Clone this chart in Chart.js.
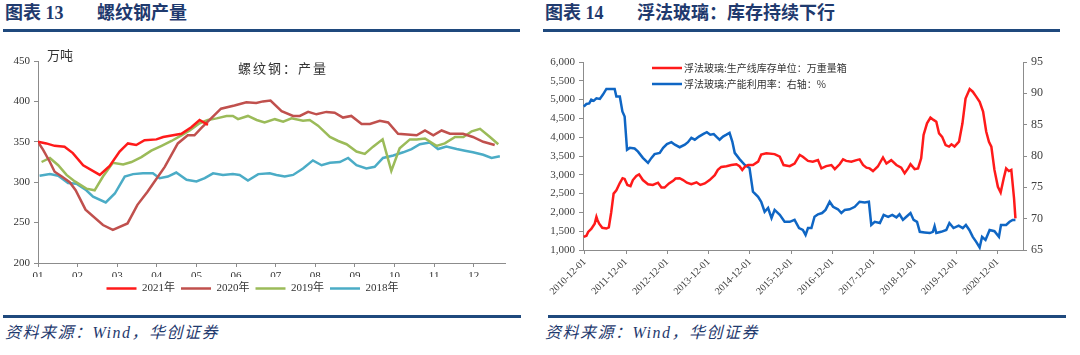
<!DOCTYPE html>
<html><head><meta charset="utf-8">
<script src="https://cdn.jsdelivr.net/npm/chart.js@4/dist/chart.umd.min.js"></script>
<style>
body{margin:0;width:1080px;height:355px;background:#fff;position:relative;overflow:hidden}
.t{position:absolute;color:#1f3a6e;font-weight:bold;font-size:18px;font-family:"Liberation Serif","Noto Sans CJK SC",serif;white-space:nowrap;line-height:20px}
.rule{position:absolute;height:3px;background:#1f497d}
.src{position:absolute;font-style:italic;color:#1f3a6e;font-size:16px;letter-spacing:1.5px;font-family:"Liberation Serif","Noto Sans CJK SC",serif;white-space:nowrap;line-height:18px}
.ann{position:absolute;color:#333;font-size:13px;font-family:"Noto Sans CJK SC",serif;white-space:nowrap;line-height:16px}
canvas{position:absolute}
</style></head>
<body>
<div class="t" style="left:5px;top:3px">图表 13</div>
<div class="t" style="left:97px;top:3px">螺纹钢产量</div>
<div class="rule" style="left:3px;top:29px;width:517px"></div>
<div class="t" style="left:545px;top:3px">图表 14</div>
<div class="t" style="left:637px;top:3px">浮法玻璃：库存持续下行</div>
<div class="rule" style="left:543px;top:29px;width:517px"></div>

<canvas id="c1" width="520" height="265" style="left:0;top:40px"></canvas>
<canvas id="c2" width="530" height="275" style="left:540px;top:40px"></canvas>

<div class="ann" style="left:47px;top:47px">万吨</div>
<div class="ann" style="left:238px;top:60px;letter-spacing:2px">螺纹钢：产量</div>

<div class="rule" style="left:3px;top:315px;width:518px"></div>
<div class="rule" style="left:548px;top:315px;width:518px"></div>
<div class="src" style="left:5px;top:324px">资料来源：Wind，华创证券</div>
<div class="src" style="left:545px;top:324px">资料来源：Wind，华创证券</div>

<script>
// ---------- Chart 13: rebar output (万吨), x = month position ----------
const MONTH_TICKS = [1,2,3,4,5,6,7,8,9,10,11,12];
const MONTH_LABELS = ['01','02','03','04','05','06','07','08','09','10','11','12'];
const REBAR_NAMES = ['2021年','2020年','2019年','2018年'];
const REBAR_COLORS = ['#ff1a1a','#c0504d','#9bbb59','#4bacc6'];
const rebar2021 = [[1.00,350],[1.21,348],[1.42,345],[1.67,344],[1.88,336],[2.14,321],[2.56,309],[2.81,320],[3.06,338],[3.27,348],[3.48,346],[3.69,352],[3.99,353],[4.16,356],[4.62,360],[4.87,368],[5.08,377],[5.29,371]];
const rebar2020 = [[1.00,350],[1.13,340],[1.30,325],[1.42,313],[1.60,307],[1.80,300],[1.95,290],[2.20,266],[2.64,247],[2.89,241],[3.26,249],[3.51,272],[3.76,288],[3.93,300],[4.20,319],[4.53,348],[4.78,358],[4.95,358],[5.12,367],[5.37,379],[5.62,391],[5.96,395],[6.26,399],[6.51,398],[6.68,400],[6.87,401],[7.15,388],[7.44,382],[7.61,382],[7.82,387],[8.03,384],[8.28,387],[8.49,386],[8.70,380],[8.91,382],[9.17,372],[9.38,372],[9.63,376],[9.84,374],[10.09,360],[10.56,358],[10.77,364],[10.98,358],[11.19,364],[11.40,360],[11.73,360],[11.98,356],[12.24,350],[12.53,346]];
const rebar2019 = [[1.09,325],[1.30,330],[1.51,321],[1.72,309],[1.93,301],[2.22,292],[2.43,290],[2.64,307],[2.89,324],[3.15,322],[3.36,325],[3.61,331],[3.86,339],[4.12,345],[4.37,351],[4.62,358],[4.83,364],[5.08,373],[5.29,377],[5.51,379],[5.76,382],[5.92,382],[6.05,378],[6.30,382],[6.52,377],[6.72,374],[6.98,378],[7.19,375],[7.40,379],[7.69,376],[7.86,377],[8.07,370],[8.37,356],[8.58,351],[8.79,347],[9.04,338],[9.25,335],[9.46,344],[9.70,353],[9.92,314],[10.13,342],[10.39,353],[10.56,353],[10.77,354],[11.06,345],[11.27,348],[11.53,356],[11.74,356],[11.95,363],[12.16,366],[12.41,356],[12.62,347]];
const rebar2018 = [[1.04,308],[1.30,310],[1.51,308],[1.76,299],[1.97,298],[2.22,290],[2.39,282],[2.71,275],[2.94,286],[3.19,307],[3.40,310],[3.65,311],[3.90,311],[4.07,305],[4.28,307],[4.49,312],[4.75,303],[5.00,301],[5.21,305],[5.42,311],[5.67,309],[5.92,310],[6.09,309],[6.30,302],[6.56,310],[6.85,311],[7.02,309],[7.23,307],[7.44,309],[7.69,317],[7.94,327],[8.16,321],[8.37,324],[8.62,325],[8.83,330],[9.04,321],[9.29,317],[9.50,319],[9.71,330],[9.97,333],[10.22,337],[10.43,341],[10.64,347],[10.89,349],[11.10,341],[11.31,344],[11.57,341],[11.78,339],[11.98,337],[12.24,334],[12.45,330],[12.66,332]];
const REBAR_SERIES = [rebar2021, rebar2020, rebar2019, rebar2018];

// ---------- Chart 14: float glass, x = months since 2010-12-01 ----------
const DATE_TICKS = [0,12,24,36,48,60,72,84,96,108,120];
const DATE_LABELS = ['2010-12-01','2011-12-01','2012-12-01','2013-12-01','2014-12-01','2015-12-01','2016-12-01','2017-12-01','2018-12-01','2019-12-01','2020-12-01'];
const GLASS_NAMES = ['浮法玻璃:生产线库存单位：万重量箱','浮法玻璃:产能利用率：右轴：%'];
const GLASS_COLORS = ['#ff1a1a','#0f66c4'];
const glassInventory = [[-0.3,1350],[0.5,1380],[1.0,1480],[1.9,1560],[2.9,1700],[3.4,1880],[3.7,1800],[4.2,1700],[5.1,1590],[6.3,1570],[7.0,1600],[7.7,2000],[8.4,2500],[9.2,2590],[10.2,2780],[11.0,2910],[11.6,2890],[12.4,2730],[13.3,2700],[14.0,2860],[15.0,2970],[15.8,3010],[16.9,2860],[18.4,2750],[19.8,2730],[21.3,2790],[22.3,2660],[23.2,2660],[24.5,2770],[25.7,2840],[26.4,2900],[27.6,2910],[28.6,2860],[29.7,2790],[31.0,2750],[32.5,2800],[33.6,2730],[34.9,2770],[36.3,2860],[37.8,2990],[38.7,3130],[39.7,3210],[41.2,3230],[42.6,3260],[44.1,3280],[45.0,3230],[45.8,3130],[46.5,3210],[47.5,3260],[48.9,3260],[50.4,3350],[51.3,3540],[52.8,3570],[55.2,3550],[56.7,3480],[57.8,3260],[59.6,3230],[61.0,3300],[62.5,3530],[63.4,3480],[64.9,3370],[66.3,3350],[67.8,3390],[68.8,3170],[70.2,3230],[71.7,3260],[72.7,3150],[74.1,3280],[75.1,3410],[76.0,3370],[77.5,3350],[79.0,3390],[79.9,3410],[80.9,3260],[81.9,3190],[82.8,3170],[83.8,3100],[85.2,3220],[86.7,3460],[87.7,3300],[89.1,3390],[90.6,3260],[92.0,3190],[93.0,3040],[94.0,3170],[94.7,3280],[95.9,3150],[96.9,3170],[97.8,3440],[98.5,4060],[99.5,4370],[100.5,4520],[101.4,4460],[102.2,4410],[103.0,4100],[103.9,4010],[104.9,3790],[105.9,3750],[106.6,3810],[107.5,3750],[108.8,3880],[109.8,4370],[110.7,5030],[111.9,5280],[112.8,5210],[113.8,5080],[114.8,4940],[115.8,4680],[116.7,4150],[117.5,3880],[118.2,3750],[119.1,3130],[120.1,2680],[120.9,2530],[121.8,2910],[122.5,3170],[123.3,3100],[124.0,3130],[124.8,2370],[125.2,1840]];
const glassUtilization = [[-0.3,87.9],[0.5,88.3],[1.3,88.4],[1.9,89.0],[2.6,88.8],[3.4,89.2],[4.4,89.1],[5.3,89.8],[6.3,90.7],[8.7,90.7],[9.2,89.5],[10.2,89.5],[10.95,87.1],[11.6,86.3],[12.3,81.0],[13.1,81.3],[14.5,81.2],[15.5,80.7],[16.9,79.7],[18.4,78.9],[19.4,79.7],[20.3,80.3],[21.8,80.5],[22.8,81.3],[23.9,81.9],[25.2,82.2],[26.2,81.8],[27.6,81.4],[29.1,81.8],[30.0,82.2],[31.0,82.9],[32.0,82.6],[33.2,83.1],[34.4,83.5],[35.5,83.8],[36.5,83.4],[37.5,83.5],[38.4,83.0],[39.2,82.6],[40.2,83.1],[41.2,83.4],[42.1,83.7],[42.9,82.3],[43.6,80.5],[45.0,79.5],[46.5,78.6],[47.9,78.1],[48.9,74.3],[50.4,73.5],[51.3,72.7],[52.3,71.1],[53.3,71.7],[54.3,70.1],[55.2,71.4],[56.7,70.6],[58.1,69.5],[59.6,69.5],[61.0,69.8],[62.3,68.5],[63.4,68.2],[64.2,67.4],[64.9,68.5],[65.9,68.5],[66.8,70.3],[67.8,70.7],[69.0,70.9],[70.0,71.4],[71.2,72.7],[72.2,71.9],[73.6,71.5],[74.6,70.9],[75.6,71.4],[77.0,71.5],[78.5,71.9],[79.9,72.7],[81.4,72.6],[82.6,72.7],[83.3,69.0],[84.3,69.5],[85.8,69.3],[86.9,70.6],[88.2,70.3],[89.4,70.6],[90.6,70.2],[91.5,70.7],[92.5,69.8],[93.5,70.3],[94.7,70.9],[95.6,69.8],[96.6,69.5],[97.4,67.9],[98.8,67.8],[100.3,67.7],[101.2,67.9],[101.7,68.8],[102.2,67.7],[103.6,67.9],[105.1,68.2],[106.0,69.3],[107.2,68.5],[108.7,68.9],[109.9,68.5],[110.8,69.0],[111.8,68.2],[112.8,67.1],[113.8,66.3],[114.8,65.4],[115.5,67.1],[116.5,66.6],[117.7,68.2],[119.1,68.0],[120.4,67.1],[121.0,69.0],[122.5,69.0],[123.5,69.5],[124.4,69.8],[125.2,69.8]];

const SERIF = '"Liberation Serif", "Noto Sans CJK SC", serif';
const toXY = arr => arr.map(p => ({x: p[0], y: p[1]}));
const axisGrid = {display: true, drawOnChartArea: false, drawTicks: true, tickLength: 4, color: '#8c8c8c'};
const axisBorder = {display: true, color: '#8c8c8c', width: 1};

new Chart(document.getElementById('c1'), {
  type: 'line',
  data: {
    datasets: REBAR_SERIES.map((s, i) => ({
      label: REBAR_NAMES[i], data: toXY(s),
      borderColor: REBAR_COLORS[i], backgroundColor: REBAR_COLORS[i],
      borderWidth: 2.5, pointRadius: 0, tension: 0
    }))
  },
  options: {
    responsive: false, animation: false, devicePixelRatio: 1,
    layout: {padding: {left: 0, right: 15, top: 21, bottom: 1}},
    plugins: {
      tooltip: {enabled: false},
      legend: {
        position: 'bottom',
        labels: {usePointStyle: true, pointStyle: 'line', pointStyleWidth: 30, boxHeight: 11,
                 padding: 6, color: '#333', font: {family: SERIF, size: 11}}
      }
    },
    scales: {
      x: {
        type: 'linear', min: 1, max: 12.79,
        afterBuildTicks: s => { s.ticks = MONTH_TICKS.map(v => ({value: v})); },
        afterFit: s => { s.height = 14; },
        ticks: {autoSkip: false, maxRotation: 0, padding: 3, color: '#333', font: {family: SERIF, size: 11},
                callback: (v, i) => MONTH_LABELS[i]},
        grid: axisGrid, border: axisBorder
      },
      y: {
        min: 200, max: 450,
        afterFit: s => { s.width = 38; },
        ticks: {stepSize: 50, padding: 4, color: '#333', font: {family: SERIF, size: 11}},
        grid: axisGrid, border: axisBorder
      }
    }
  }
});

const insideLegend = {
  id: 'insideLegend',
  afterDraw(chart) {
    const ctx = chart.ctx, a = chart.chartArea;
    chart.data.datasets.forEach((ds, i) => {
      const y = a.top + 6 + i * 16, x0 = a.left + 69;
      ctx.save();
      ctx.strokeStyle = ds.borderColor; ctx.lineWidth = 2.5;
      ctx.beginPath(); ctx.moveTo(x0, y); ctx.lineTo(x0 + 30, y); ctx.stroke();
      ctx.fillStyle = '#333'; ctx.font = '10px "Noto Sans CJK SC"'; ctx.textBaseline = 'middle';
      ctx.fillText(ds.label, x0 + 32, y);
      ctx.restore();
    });
  }
};

new Chart(document.getElementById('c2'), {
  type: 'line',
  data: {
    datasets: [
      {label: GLASS_NAMES[0], data: toXY(glassInventory), yAxisID: 'y',
       borderColor: GLASS_COLORS[0], borderWidth: 2.5, pointRadius: 0, tension: 0},
      {label: GLASS_NAMES[1], data: toXY(glassUtilization), yAxisID: 'y1',
       borderColor: GLASS_COLORS[1], borderWidth: 2.5, pointRadius: 0, tension: 0}
    ]
  },
  options: {
    responsive: false, animation: false, devicePixelRatio: 1,
    layout: {padding: {left: 0, right: 0, top: 22, bottom: 5}},
    plugins: {tooltip: {enabled: false}, legend: {display: false}},
    scales: {
      x: {
        type: 'linear', min: -0.5, max: 127.4,
        afterBuildTicks: s => { s.ticks = DATE_TICKS.map(v => ({value: v})); },
        afterFit: s => { s.height = 60; },
        ticks: {autoSkip: false, minRotation: 45, maxRotation: 45, padding: 2, color: '#404040',
                font: {family: SERIF, size: 10}, callback: (v, i) => DATE_LABELS[i]},
        grid: axisGrid, border: axisBorder
      },
      y: {
        position: 'left', min: 1000, max: 6000,
        afterFit: s => { s.width = 43; },
        ticks: {stepSize: 500, padding: 4, color: '#404040', font: {family: SERIF, size: 11}},
        grid: axisGrid, border: axisBorder
      },
      y1: {
        position: 'right', min: 65, max: 95,
        afterFit: s => { s.width = 47; },
        ticks: {stepSize: 5, padding: 4, color: '#404040', font: {family: SERIF, size: 12}},
        grid: axisGrid, border: axisBorder
      }
    }
  },
  plugins: [insideLegend]
});
</script>
</body></html>
